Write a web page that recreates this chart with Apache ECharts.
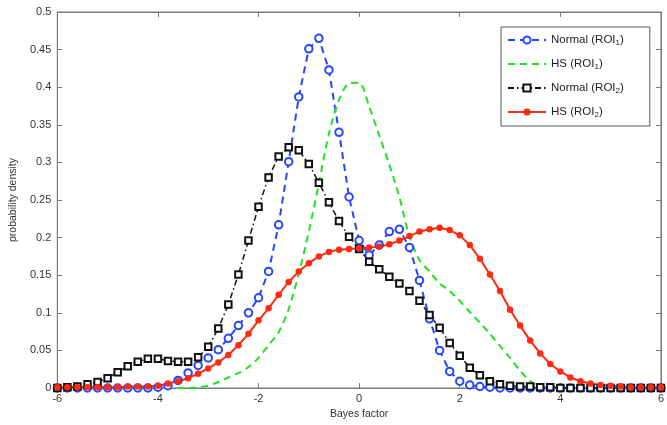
<!DOCTYPE html>
<html>
<head>
<meta charset="utf-8">
<script src="https://cdn.jsdelivr.net/npm/echarts@6/dist/echarts.min.js"></script>
<style>
html,body{margin:0;padding:0;background:#fff;}
#chart{width:667px;height:425px;}
</style>
</head>
<body>
<div id="chart"></div>
<script>
var bayesFactor = [-6.0,-5.8,-5.6,-5.4,-5.2,-5.0,-4.8,-4.6,-4.4,-4.2,-4.0,-3.8,-3.6,-3.4,-3.2,-3.0,-2.8,-2.6,-2.4,-2.2,-2.0,-1.8,-1.6,-1.4,-1.2,-1.0,-0.8,-0.6,-0.4,-0.2,0.0,0.2,0.4,0.6,0.8,1.0,1.2,1.4,1.6,1.8,2.0,2.2,2.4,2.6,2.8,3.0,3.2,3.4,3.6,3.8,4.0,4.2,4.4,4.6,4.8,5.0,5.2,5.4,5.6,5.8,6.0];

var normalROI1 = [0,0,0,0,0,0,0,0,0,0,0.001,0.003,0.010,0.020,0.030,0.040,0.051,0.066,0.083,0.100,0.120,0.155,0.217,0.301,0.387,0.451,0.465,0.423,0.340,0.254,0.196,0.177,0.190,0.208,0.211,0.187,0.143,0.092,0.050,0.022,0.009,0.004,0.002,0.001,0,0,0,0,0,0,0,0,0,0,0,0,0,0,0,0,0];

var hsROI1 = [0,0,0,0,0,0,0,0,0,0,0,0,0,0,0.001,0.003,0.008,0.014,0.020,0.028,0.040,0.057,0.074,0.105,0.152,0.208,0.272,0.338,0.383,0.405,0.406,0.374,0.336,0.297,0.254,0.202,0.170,0.155,0.139,0.129,0.116,0.101,0.087,0.072,0.056,0.040,0.023,0.009,0.002,0,0,0,0,0,0,0,0,0,0,0,0];

var normalROI2 = [0,0.001,0.002,0.005,0.008,0.013,0.021,0.029,0.035,0.039,0.039,0.036,0.035,0.035,0.041,0.055,0.079,0.111,0.151,0.196,0.241,0.280,0.308,0.320,0.316,0.298,0.273,0.247,0.222,0.201,0.185,0.168,0.158,0.148,0.139,0.129,0.116,0.097,0.080,0.060,0.043,0.027,0.017,0.009,0.005,0.003,0.002,0.002,0.001,0.001,0,0,0,0,0,0,0,0,0,0,0];

var hsROI2 = [0.001,0.001,0.001,0.001,0.001,0.001,0.001,0.002,0.002,0.002,0.003,0.006,0.009,0.013,0.019,0.026,0.034,0.044,0.057,0.072,0.090,0.106,0.124,0.141,0.155,0.166,0.175,0.181,0.184,0.185,0.186,0.187,0.188,0.191,0.196,0.202,0.208,0.211,0.213,0.210,0.203,0.190,0.172,0.151,0.129,0.104,0.083,0.063,0.046,0.032,0.022,0.014,0.009,0.006,0.004,0.003,0.002,0.001,0.001,0.001,0.001];

var seriesNames = ['Normal (ROI1)','HS (ROI1)','Normal (ROI2)','HS (ROI2)'];
var legendLabels = {
  'Normal (ROI1)': 'Normal (ROI{s|1})',
  'HS (ROI1)': 'HS (ROI{s|1})',
  'Normal (ROI2)': 'Normal (ROI{s|2})',
  'HS (ROI2)': 'HS (ROI{s|2})'
};
var xTicks = {min:-6, max:6, interval:2};
var yTicks = {min:0, max:0.5, interval:0.05};

function pairs(ys){ return bayesFactor.map(function(x,i){ return [x, ys[i]]; }); }

var FONT = 'Liberation Sans';
var axisColor = '#7a7a7a';
var textColor = '#333';
var transparent = 'rgba(0,0,0,0)';

var chart = echarts.init(document.getElementById('chart'));
chart.setOption({
  animation: false,
  backgroundColor: '#fff',
  textStyle: {fontFamily: FONT},
  grid: {left: 52, right: 4, top: 12, bottom: 37, show: true, borderColor: axisColor, borderWidth: 1},
  legend: {
    data: [
      {name: seriesNames[0]},
      {name: seriesNames[1], itemStyle: {color: transparent, borderColor: transparent}},
      {name: seriesNames[2]},
      {name: seriesNames[3]}
    ],
    orient: 'vertical',
    left: 501, top: 27,
    backgroundColor: '#fff',
    borderColor: '#555', borderWidth: 1,
    padding: [7, 26, 7, 6],
    itemWidth: 38, itemHeight: 9, itemGap: 11,
    formatter: function(n){ return legendLabels[n]; },
    textStyle: {fontFamily: FONT, fontSize: 11.5, color: '#222',
      rich: {s: {fontSize: 8, fontFamily: FONT, color: '#222', padding: [6, 0, 0, 0]}}}
  },
  xAxis: [{
    type: 'value', min: xTicks.min, max: xTicks.max, interval: xTicks.interval,
    name: 'Bayes factor', nameLocation: 'middle', nameGap: 18,
    nameTextStyle: {fontSize: 10.5, color: textColor, fontFamily: FONT},
    axisLine: {show: true, onZero: false, lineStyle: {color: axisColor}},
    axisTick: {show: true, inside: true, length: 5, lineStyle: {color: axisColor}},
    axisLabel: {fontSize: 11, color: textColor, margin: 5, fontFamily: FONT},
    splitLine: {show: false}
  },{
    type: 'value', position: 'top', min: xTicks.min, max: xTicks.max, interval: xTicks.interval,
    axisLine: {show: true, onZero: false, lineStyle: {color: axisColor}},
    axisTick: {show: true, inside: true, length: 5, lineStyle: {color: axisColor}},
    axisLabel: {show: false}, splitLine: {show: false}
  }],
  yAxis: [{
    type: 'value', min: yTicks.min, max: yTicks.max, interval: yTicks.interval,
    name: 'probability density', nameLocation: 'middle', nameGap: 36,
    nameTextStyle: {fontSize: 10.5, color: textColor, fontFamily: FONT},
    axisLine: {show: true, onZero: false, lineStyle: {color: axisColor}},
    axisTick: {show: true, inside: true, length: 5, lineStyle: {color: axisColor}},
    axisLabel: {fontSize: 11, color: textColor, margin: 6, fontFamily: FONT,
      formatter: function(v){ return String(+v.toFixed(2)); }},
    splitLine: {show: false}
  },{
    type: 'value', position: 'right', min: yTicks.min, max: yTicks.max, interval: yTicks.interval,
    axisLine: {show: true, onZero: false, lineStyle: {color: axisColor}},
    axisTick: {show: true, inside: true, length: 5, lineStyle: {color: axisColor}},
    axisLabel: {show: false}, splitLine: {show: false}
  }],
  series: [{
    name: seriesNames[0], type: 'line', data: pairs(normalROI1),
    symbol: 'emptyCircle', symbolSize: 7.5,
    lineStyle: {color: '#2646ff', width: 2, type: [7, 5]},
    itemStyle: {color: '#2646ff', borderColor: '#2646ff', borderWidth: 1.5}
  },{
    name: seriesNames[1], type: 'line', data: pairs(hsROI1),
    symbol: 'none', smooth: 0.3,
    lineStyle: {color: '#22e022', width: 2, type: [7, 5]},
    itemStyle: {color: '#22e022'}
  },{
    name: seriesNames[2], type: 'line', data: pairs(normalROI2),
    symbol: 'emptyRect', symbolSize: 6.5,
    lineStyle: {color: '#111', width: 1.5, type: [6, 3, 1.5, 3]},
    itemStyle: {color: '#111', borderColor: '#111', borderWidth: 1.5}
  },{
    name: seriesNames[3], type: 'line', data: pairs(hsROI2),
    symbol: 'circle', symbolSize: 6.5,
    lineStyle: {color: '#ff2a10', width: 2},
    itemStyle: {color: '#ff2a10'}
  }]
});
</script>
</body>
</html>
